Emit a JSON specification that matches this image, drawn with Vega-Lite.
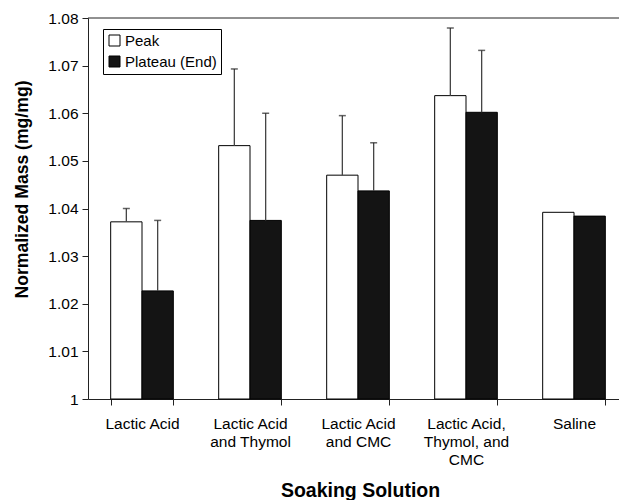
{
  "$schema": "https://vega.github.io/schema/vega-lite/v6.json",
  "width": 531,
  "height": 381,
  "autosize": {"type": "none"},
  "padding": {"left": 88, "top": 18, "right": 0, "bottom": 101},
  "config": {
    "view": {"stroke": null},
    "font": "Liberation Sans",
    "axis": {"labelFont": "Liberation Sans", "titleFont": "Liberation Sans", "labelColor": "#000", "titleColor": "#000", "domainColor": "#222", "tickColor": "#222", "grid": false}
  },
  "data": {
    "values": [
      {"solution": "Lactic Acid", "series": "Peak", "mass": 1.0372, "upper": 1.0400},
      {"solution": "Lactic Acid", "series": "Plateau (End)", "mass": 1.0227, "upper": 1.0375},
      {"solution": "Lactic Acid and Thymol", "series": "Peak", "mass": 1.0532, "upper": 1.0693},
      {"solution": "Lactic Acid and Thymol", "series": "Plateau (End)", "mass": 1.0375, "upper": 1.0600},
      {"solution": "Lactic Acid and CMC", "series": "Peak", "mass": 1.0470, "upper": 1.0595},
      {"solution": "Lactic Acid and CMC", "series": "Plateau (End)", "mass": 1.0437, "upper": 1.0538},
      {"solution": "Lactic Acid, Thymol, and CMC", "series": "Peak", "mass": 1.0637, "upper": 1.0779},
      {"solution": "Lactic Acid, Thymol, and CMC", "series": "Plateau (End)", "mass": 1.0602, "upper": 1.0732},
      {"solution": "Saline", "series": "Peak", "mass": 1.0392, "upper": null},
      {"solution": "Saline", "series": "Plateau (End)", "mass": 1.0384, "upper": null}
    ]
  },
  "layer": [
    {
      "mark": {"type": "bar", "stroke": "#000", "strokeWidth": 1},
      "encoding": {
        "x": {
          "field": "solution", "type": "nominal", "sort": null,
          "scale": {"paddingInner": 0.42, "paddingOuter": 0.21, "range": [0, 540]},
          "axis": {
            "title": "Soaking Solution",
            "titleFontSize": 19.5, "titleFontWeight": "bold",
            "titleX": 272, "titleY": 97, "titleBaseline": "alphabetic",
            "labelAngle": 0, "labelFontSize": 15.5, "labelLineHeight": 18,
            "labelPadding": 11, "tickSize": 6, "tickBand": "extent",
            "labelLimit": 0,
            "labelExpr": "datum.value == 'Lactic Acid and Thymol' ? ['Lactic Acid', 'and Thymol'] : datum.value == 'Lactic Acid and CMC' ? ['Lactic Acid', 'and CMC'] : datum.value == 'Lactic Acid, Thymol, and CMC' ? ['Lactic Acid,', 'Thymol, and', 'CMC'] : datum.label"
          }
        },
        "xOffset": {"field": "series", "type": "nominal", "sort": null},
        "y": {
          "field": "mass", "type": "quantitative",
          "scale": {"domain": [1, 1.08], "nice": false, "zero": false},
          "axis": {
            "title": "Normalized Mass (mg/mg)",
            "titleFontSize": 17.6, "titleFontWeight": "bold",
            "titleX": -57, "titleY": 171,
            "values": [1, 1.01, 1.02, 1.03, 1.04, 1.05, 1.06, 1.07, 1.08],
            "labelFontSize": 15.5, "labelPadding": 4, "tickSize": 6,
            "labelExpr": "datum.value == 1 ? '1' : format(datum.value, '.2f')"
          }
        },
        "y2": {"datum": 1},
        "fill": {
          "field": "series", "type": "nominal",
          "scale": {"domain": ["Peak", "Plateau (End)"], "range": ["#ffffff", "#141414"]},
          "legend": {
            "title": null, "orient": "none", "legendX": 15, "legendY": 11,
            "symbolType": "square", "symbolSize": 121, "symbolStrokeColor": "#000", "symbolStrokeWidth": 1,
            "labelFontSize": 15, "labelFont": "Liberation Sans", "labelColor": "#000", "labelOffset": 3,
            "rowPadding": 5, "padding": 4,
            "strokeColor": "#000", "fillColor": "#fff"
          }
        }
      }
    },
    {
      "transform": [{"filter": "datum.upper != null"}],
      "mark": {"type": "rule", "color": "#444", "strokeWidth": 1.3},
      "encoding": {
        "x": {"field": "solution", "type": "nominal", "sort": null},
        "xOffset": {"field": "series", "type": "nominal", "sort": null},
        "y": {"field": "mass", "type": "quantitative"},
        "y2": {"field": "upper"}
      }
    },
    {
      "transform": [{"filter": "datum.upper != null"}],
      "mark": {"type": "tick", "color": "#222", "size": 7, "thickness": 1.5},
      "encoding": {
        "x": {"field": "solution", "type": "nominal", "sort": null},
        "xOffset": {"field": "series", "type": "nominal", "sort": null},
        "y": {"field": "upper", "type": "quantitative"}
      }
    },
    {
      "data": {"values": [{}]},
      "mark": {"type": "rule", "color": "#222", "strokeWidth": 1},
      "encoding": {"y": {"datum": 1.08}}
    }
  ]
}
